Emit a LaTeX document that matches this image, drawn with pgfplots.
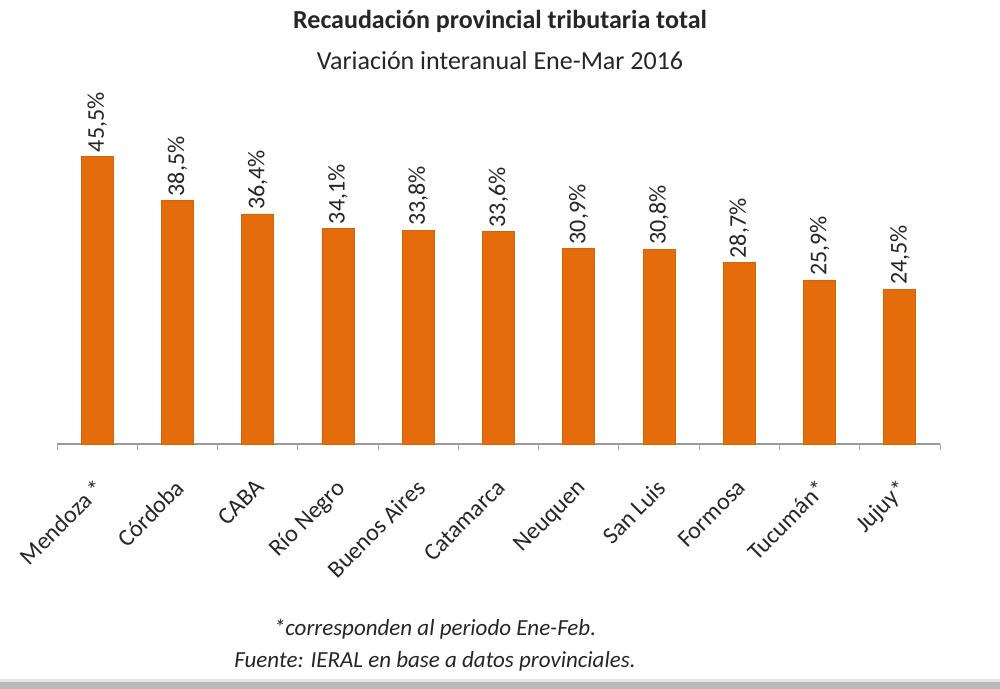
\documentclass[border=0pt]{standalone}
\usepackage{pgfplots}
\pgfplotsset{compat=1.18}
\usepackage{fontspec}
\setmainfont{Carlito}
\definecolor{barorange}{HTML}{E46C0A}
\definecolor{txt}{HTML}{262626}
\begin{document}
\begin{tikzpicture}[x=0.5pt,y=0.5pt]
\path[use as bounding box, fill=white] (0,0) rectangle (1000,689);
\fill[gray!55] (0,0) rectangle (1000,7);
\fill[gray!20] (0,7) rectangle (1000,10);
\node[font=\fontsize{13}{15}\selectfont\bfseries, text=txt] at (500,668) {Recaudación provincial tributaria total};
\node[font=\fontsize{13}{15}\selectfont, text=txt] at (500,628) {Variación interanual Ene-Mar 2016};
\node[font=\fontsize{11.5}{13}\selectfont\itshape, text=txt] at (435,60) {*corresponden al periodo Ene-Feb.};
\node[font=\fontsize{11.5}{13}\selectfont\itshape, text=txt] at (435,28) {Fuente: IERAL en base a datos provinciales.};
\begin{axis}[
  at={(28.5pt,122.5pt)}, anchor=south west,
  scale only axis, width=441.5pt, height=158pt,
  xmin=-0.5, xmax=10.5, ymin=0, ymax=50,
  clip=false,
  hide y axis,
  axis x line*=bottom,
  x axis line style={draw=gray!80, line width=0.8pt},
  xtick=data,
  xticklabels={Mendoza *, Córdoba, CABA, Río Negro, Buenos Aires, Catamarca, Neuquen, San Luis, Formosa, Tucumán*, Jujuy*},
  major tick length=0pt,
  xticklabel style={rotate=45, anchor=north east, inner sep=0pt, yshift=-10.7pt, xshift=-13pt, font=\fontsize{12}{14}\selectfont, text=txt},
  extra x ticks={-0.5,0.5,1.5,2.5,3.5,4.5,5.5,6.5,7.5,8.5,9.5,10.5},
  extra x tick labels={},
  extra x tick style={major tick length=3pt, tick align=outside, tick style={draw=gray!70, line width=0.5pt}},
  ybar, bar width=16pt,
  nodes near coords={\pgfmathprintnumber[fixed,fixed zerofill,precision=1,use comma,assume math mode=true]{\pgfplotspointmeta}\%},
  nodes near coords style={rotate=90, anchor=west, inner sep=2pt, font=\fontsize{12}{14}\selectfont, text=txt},
]
\addplot[fill=barorange, draw=barorange!92!black, line width=0.4pt] coordinates {
(0,45.5) (1,38.5) (2,36.4) (3,34.1) (4,33.8) (5,33.6) (6,30.9) (7,30.8) (8,28.7) (9,25.9) (10,24.5)};
\end{axis}
\end{tikzpicture}
\end{document}
